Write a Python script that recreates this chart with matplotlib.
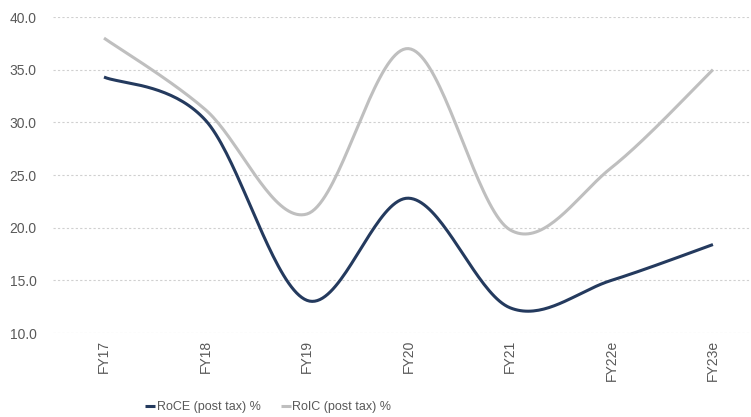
import numpy as np
import matplotlib.pyplot as plt

# --- DATA ---
years = ["FY17", "FY18", "FY19", "FY20", "FY21", "FY22e", "FY23e"]
roce = [34.3, 30.2, 13.1, 22.8, 12.4, 15.0, 18.4]
roic = [38.0, 31.2, 21.3, 37.0, 19.8, 25.7, 35.0]

plt.rcParams["font.family"] = ["Liberation Sans", "DejaVu Sans"]


def smooth(xs, ys, n=40):
    # Excel-like smoothed line: cubic bezier with catmull-rom control points
    xs = np.asarray(xs, float)
    ys = np.asarray(ys, float)
    px = np.concatenate([[xs[0]], xs, [xs[-1]]])
    py = np.concatenate([[ys[0]], ys, [ys[-1]]])
    outx, outy = [], []
    t = np.linspace(0, 1, n)
    for i in range(1, len(px) - 2):
        p0 = np.array([px[i], py[i]])
        p3 = np.array([px[i + 1], py[i + 1]])
        p1 = p0 + (np.array([px[i + 1], py[i + 1]]) - np.array([px[i - 1], py[i - 1]])) / 6
        p2 = p3 - (np.array([px[i + 2], py[i + 2]]) - np.array([px[i], py[i]])) / 6
        pts = ((1 - t) ** 3)[:, None] * p0 + (3 * (1 - t) ** 2 * t)[:, None] * p1 \
            + (3 * (1 - t) * t ** 2)[:, None] * p2 + (t ** 3)[:, None] * p3
        outx.extend(pts[:, 0])
        outy.extend(pts[:, 1])
    return outx, outy


fig = plt.figure(figsize=(7.51, 4.17), dpi=100)
ax = fig.add_axes([0.0709, 0.2014, 0.946, 0.7578])

x = np.arange(len(years))
sx, sy = smooth(x, roce)
ax.plot(sx, sy, color="#243A5E", lw=2.2, label="RoCE (post tax) %", solid_capstyle="butt")
sx, sy = smooth(x, roic)
ax.plot(sx, sy, color="#BFBFBF", lw=2.2, label="RoIC (post tax) %", solid_capstyle="butt")

ax.set_xlim(-0.5, len(years) - 0.5)
ax.set_ylim(10, 40)
ax.set_yticks(np.arange(10, 41, 5))
ax.set_yticklabels([f"{v:.1f}" for v in np.arange(10, 41, 5)])
ax.set_xticks(x)
ax.set_xticklabels(years, rotation=90)
ax.tick_params(length=0, colors="#595959", labelsize=10)
ax.tick_params(axis="x", pad=5)
ax.tick_params(axis="y", pad=12)
ax.grid(axis="y", color="#D0D0D0", lw=0.8, ls=(0, (2, 2)))
ax.set_axisbelow(True)
for s in ax.spines.values():
    s.set_visible(False)

fig.legend(loc="center", bbox_to_anchor=(0.357, 0.024), ncol=2, frameon=False,
           handlelength=0.8, handletextpad=0.15, columnspacing=1.6,
           prop={"size": 9}, labelcolor="#595959")

fig.savefig("out.png", dpi=100)
